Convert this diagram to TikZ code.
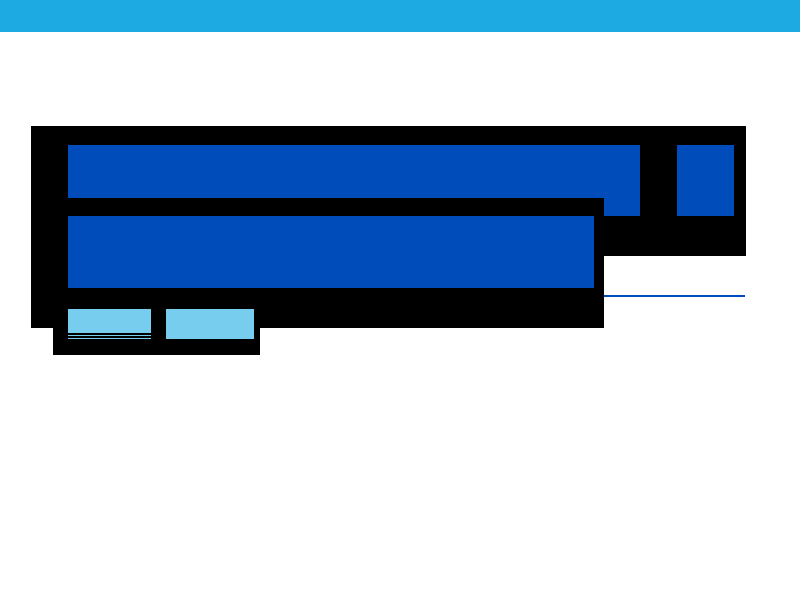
\documentclass[tikz,border=0pt]{standalone}
\usepackage{tikz}
\usetikzlibrary{positioning}

\definecolor{barblue}{HTML}{1DAAE2}
\definecolor{darkblue}{HTML}{004CBB}
\definecolor{lightblue}{HTML}{77CDEE}

\begin{document}
\begin{tikzpicture}[x=1pt,y=-1pt]
  \tikzset{PanelStyle/.style = {
    shape         = rectangle,
    fill          = black,
    draw          = none,
    inner sep     = 0pt,
    outer sep     = 0pt,
    anchor        = north west
    }
  }
  \tikzset{BlockStyle/.style = {
    PanelStyle,
    fill          = darkblue
    }
  }
  \tikzset{TabStyle/.style = {
    PanelStyle,
    fill          = lightblue
    }
  }
  \tikzset{RuleStyle/.style = {
    draw          = darkblue,
    line width    = 1.2pt
    }
  }

  \useasboundingbox (0,0) rectangle (800,600);
	\node[PanelStyle, fill=barblue, minimum width=800pt, minimum height=32pt](Top) at (0,0) {};

	\node[PanelStyle, minimum width=715pt, minimum height=130pt](P1) at (31,126) {};
	\node[BlockStyle, minimum width=572pt, minimum height=71pt](B1) at (68,145) {};
	\node[BlockStyle, minimum width=57pt, minimum height=71pt](B3) at (677,145) {};
	\coordinate (L1) at (604,296);
	\coordinate (L2) at (745,296);
	\draw[RuleStyle](L1) -- (L2);
	\node[PanelStyle, minimum width=573pt, minimum height=130pt](P2) at (31,198) {};
	\node[BlockStyle, minimum width=526pt, minimum height=72pt](B2) at (68,216) {};
	\node[PanelStyle, minimum width=207pt, minimum height=28pt](P3) at (53,327) {};

	\node[TabStyle, minimum width=83pt, minimum height=24.3pt](T1) at (68,309) {};
	\node[TabStyle, minimum width=83pt, minimum height=1pt](T1a) at (68,334.7) {};
	\node[TabStyle, minimum width=83pt, minimum height=1pt](T1b) at (68,338) {};
	\node[TabStyle, minimum width=88pt, minimum height=30pt](T2) at (166,309) {};

\end{tikzpicture}
\end{document}
